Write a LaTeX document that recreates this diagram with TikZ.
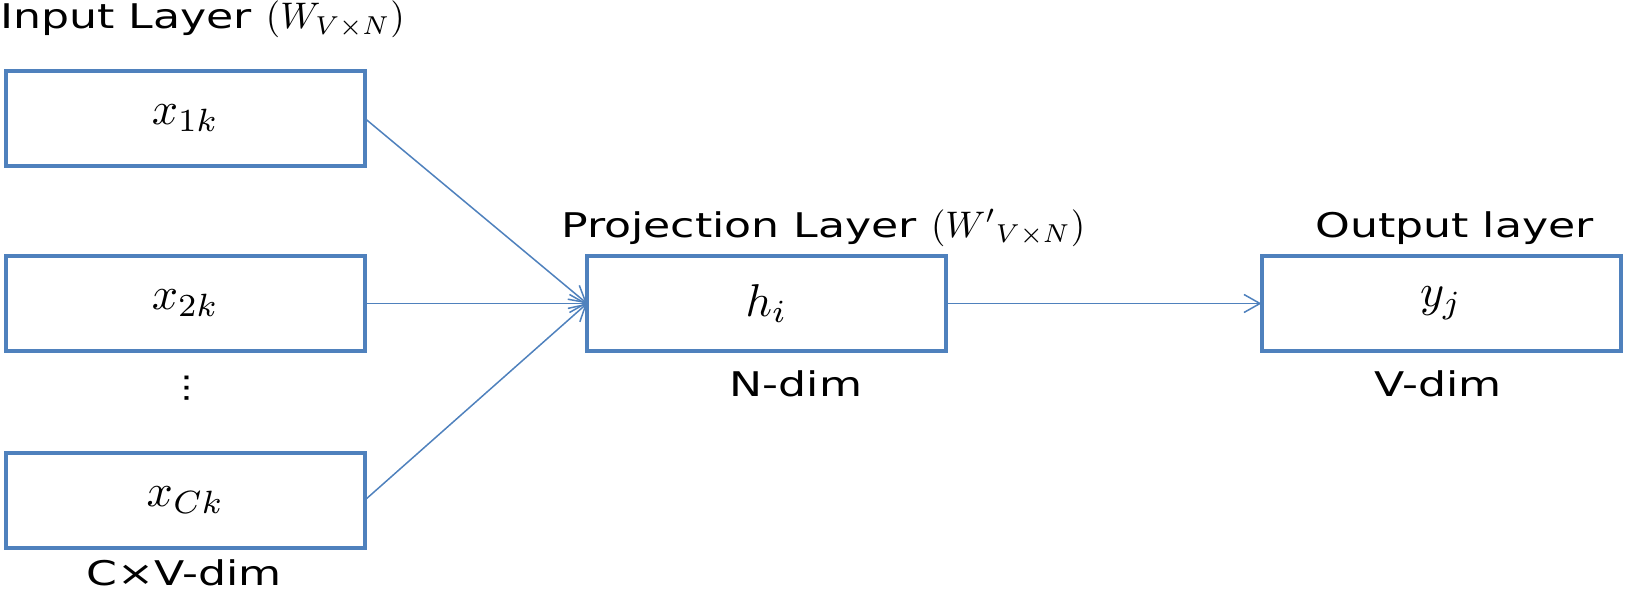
\documentclass[tikz,border=0pt]{standalone}
\usepackage{amsmath}
\usepackage{fontspec}
\setmainfont[FakeStretch=1.3]{DejaVu Sans}
\usetikzlibrary{arrows.meta}
\definecolor{boxblue}{RGB}{79,129,189}
\newcommand{\lblmath}[1]{\scalebox{3.7}{\normalsize$#1$}}
\newcommand{\boxmath}[1]{\scalebox{4.6}{\normalsize$#1$}}

\begin{document}
\begin{tikzpicture}[x=1pt,y=-1pt,
    layerbox/.style={draw=boxblue, line width=4pt, minimum width=359pt, minimum height=95pt,
      inner sep=0pt, outer sep=0pt},
    layerlabel/.style={anchor=base west, inner sep=0pt, font=\fontsize{34}{40}\selectfont},
    dimlabel/.style={anchor=base, inner sep=0pt, font=\fontsize{34}{40}\selectfont},
    conn/.style={draw=boxblue, line width=1.5pt, -{Straight Barb[length=16pt,width=18pt]}}]
  \useasboundingbox (0,0) rectangle (1625,594);
  % input layer
  \node[layerlabel] (inlbl) at (0,29) {Input Layer \lblmath{(W_{V\times N})}};
  \node[layerbox] (in1) at (185.5,118.5) {\boxmath{x_{1k}}};
  \node[layerbox] (in2) at (185.5,303.5) {\boxmath{x_{2k}}};
  \node[font=\fontsize{30}{36}\selectfont, inner sep=0pt] (dots) at (187,388) {⋮};
  \node[layerbox] (inC) at (185.5,500) {\boxmath{x_{Ck}}};
  \node[dimlabel] (indim) at (184,585) {C×V-dim};
  % projection layer
  \node[layerlabel] (projlbl) at (561,237) {Projection Layer \lblmath{({W'}_{V\times N})}};
  \node[layerbox] (proj) at (766.5,303.5) {\boxmath{h_i}};
  \node[dimlabel] (projdim) at (796,396) {N-dim};
  % output layer
  \node[layerlabel] (outlbl) at (1315,237) {Output layer};
  \node[layerbox] (out) at (1441,303.5) {\boxmath{y_j}};
  \node[dimlabel] (outdim) at (1438,396) {V-dim};
  % connections
  \draw[conn] (in1.east) -- (proj.west);
  \draw[conn] (in2.east) -- (proj.west);
  \draw[conn] (inC.east) -- (proj.west);
  \draw[conn] (proj.east) -- (out.west);
\end{tikzpicture}
\end{document}
